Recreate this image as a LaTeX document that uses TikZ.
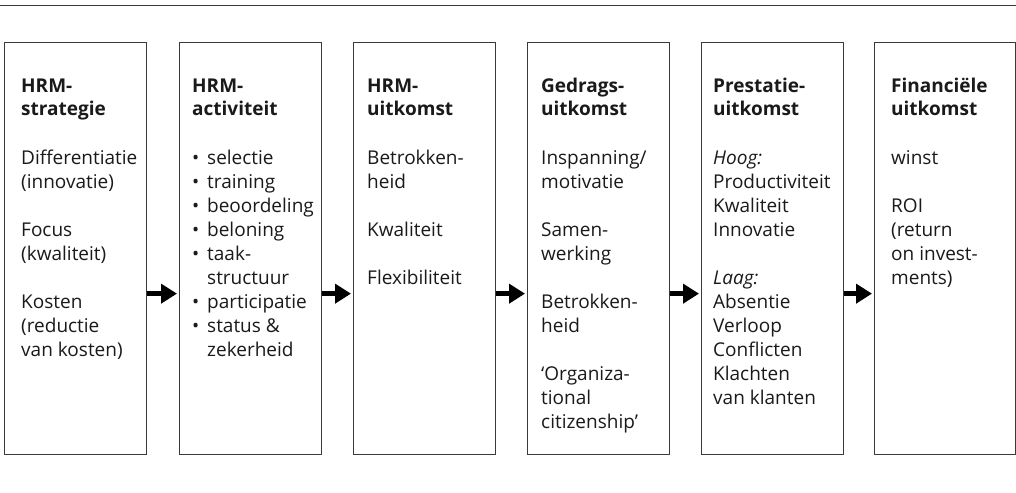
\documentclass[tikz,border=0pt]{standalone}
\usepackage{fontspec}
\setmainfont{Open Sans}
\usetikzlibrary{arrows.meta}
\definecolor{rulegray}{HTML}{3A3A3A}
\definecolor{inkblack}{HTML}{1A1A1A}
\tikzset{
  stagebox/.style={draw=rulegray, line width=1.3pt, rectangle, inner sep=0pt,
    anchor=north west, minimum width=142pt, minimum height=412pt},
  stagetext/.style={anchor=north west, inner sep=0pt, align=left,
    text=inkblack, font=\fontsize{19}{24}\selectfont},
  flow/.style={line width=5pt, draw=black,
    -{Triangle[length=16pt, width=19pt]}},
}
% bullet item with hanging indent
\newcommand{\itm}[1]{\makebox[15pt][l]{\raisebox{0pt}{\textbullet}}#1}
\newcommand{\cnt}[1]{\hspace*{15pt}#1}
\newcommand{\hd}[2]{\rule{0pt}{15pt}\textbf{#1}\\[-0.5pt]\textbf{#2}\\[24.5pt]}
\begin{document}
\begin{tikzpicture}[x=1pt, y=-1pt]
\useasboundingbox (0,0) rectangle (1016,492);
\fill[white] (0,0) rectangle (1016,492);

% rule along the top
\coordinate (ruleL) at (0,5.5);
\coordinate (ruleR) at (1016,5.5);
\draw[rulegray, line width=1.5pt] (ruleL) -- (ruleR);

% the six stages
\node[stagebox] (b1) at (4,42) {};
\node[stagebox] (b2) at (179,42) {};
\node[stagebox] (b3) at (353,42) {};
\node[stagebox] (b4) at (527,42) {};
\node[stagebox] (b5) at (701,42) {};
\node[stagebox, minimum width=141pt] (b6) at (874,42) {};

\node[stagetext] (t1) at (21,77) {\hd{HRM-}{strategie}
Differentiatie\\ (innovatie)\\[24pt]
Focus\\ (kwaliteit)\\[24pt]
Kosten\\ (reductie\\ van kosten)};

\node[stagetext] (t2) at (192,77) {\hd{HRM-}{activiteit}
\itm{selectie}\\ \itm{training}\\ \itm{beoordeling}\\ \itm{beloning}\\
\itm{taak-}\\ \cnt{structuur}\\ \itm{participatie}\\ \itm{status \&}\\ \cnt{zekerheid}};

\node[stagetext] (t3) at (367,77) {\hd{HRM-}{uitkomst}
Betrokken-\\ heid\\[24pt]
Kwaliteit\\[24pt]
Flexibiliteit};

\node[stagetext] (t4) at (541,77) {\hd{Gedrags-}{uitkomst}
Inspanning/\\ motivatie\\[24pt]
Samen-\\ werking\\[24pt]
Betrokken-\\ heid\\[24pt]
‘Organiza-\\ tional\\ citizenship’};

\node[stagetext] (t5) at (713,77) {\hd{Prestatie-}{uitkomst}
\textit{Hoog:}\\ Productiviteit\\ Kwaliteit\\ Innovatie\\[24pt]
\textit{Laag:}\\ Absentie\\ Verloop\\ Conflicten\\ Klachten\\ van klanten};

\node[stagetext] (t6) at (891,77) {\hd{Financiële}{uitkomst}
winst\\[24pt]
ROI\\ (return\\ on invest-\\ ments)};

% flow arrows between the stages
\foreach \a/\b in {b1/b2, b2/b3, b3/b4, b4/b5, b5/b6}
  \draw[flow] ([yshift=-45pt]\a.east) -- ([xshift=-2pt, yshift=-45pt]\b.west);
\end{tikzpicture}
\end{document}
